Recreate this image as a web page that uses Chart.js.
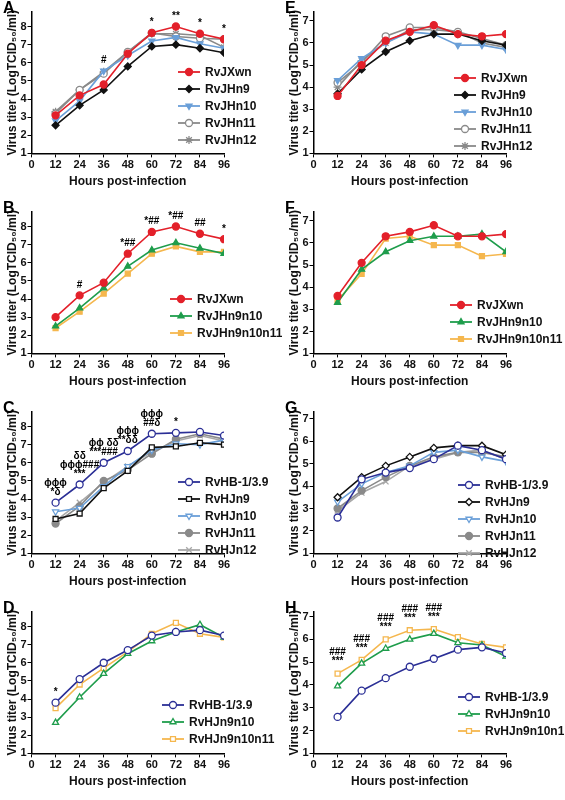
<!DOCTYPE html><html><head><meta charset="utf-8">
<script src="https://cdn.jsdelivr.net/npm/chart.js@4"></script>
<style>body{margin:0;background:#fff;width:565px;height:800px;position:relative;overflow:hidden}canvas{position:absolute}</style></head><body>
<script>
const hours=[12,24,36,48,60,72,84,96];
const xTicks=[0,12,24,36,48,60,72,84,96];
const aJXwn=[3.1,4.2,4.8,6.5,7.65,8.0,7.6,7.3], aJHn9=[2.55,3.65,4.5,5.8,6.9,7.0,6.8,6.55], aJHn10=[2.8,3.9,5.55,6.4,7.2,7.4,7.05,6.8], aJHn11=[3.2,4.5,5.4,6.6,7.65,7.45,7.35,7.3], aJHn12=[3.3,4.5,5.5,6.6,7.6,7.6,7.5,6.85];
const bJXwn=[3.0,4.2,4.9,6.5,7.7,8.0,7.6,7.3], bJHn9n10=[2.5,3.5,4.6,5.8,6.7,7.1,6.8,6.5], bJHn9n10n11=[2.4,3.3,4.3,5.4,6.5,6.9,6.6,6.6];
const cHB=[3.8,4.8,6.0,6.65,7.6,7.65,7.7,7.5], cHJn9=[2.9,3.2,4.6,5.55,6.85,6.9,7.1,7.0], cHJn10=[3.3,3.5,4.7,5.8,6.7,7.05,7.0,7.25], cHJn11=[2.65,3.6,5.0,5.6,6.5,7.3,7.6,7.3], cHJn12=[2.8,3.8,4.9,5.8,6.6,7.2,7.5,7.2];
const dHB=[3.8,5.1,6.0,6.7,7.5,7.7,7.8,7.5], dHJn9n10=[2.7,4.1,5.4,6.5,7.2,7.7,8.1,7.4], dHJn9n10n11=[3.5,4.8,5.7,6.6,7.6,8.2,7.6,7.4];
const eJXwn=[3.6,5.0,6.1,6.5,6.8,6.4,6.3,6.4], eJHn9=[3.7,4.8,5.6,6.1,6.4,6.4,6.1,5.9], eJHn10=[4.3,5.3,6.0,6.5,6.4,5.9,5.9,5.7], eJHn11=[4.2,5.1,6.3,6.7,6.7,6.5,6.2,5.9], eJHn12=[4.0,5.2,6.0,6.6,6.6,6.5,6.0,5.8];
const fJXwn=[3.6,5.1,6.3,6.5,6.8,6.3,6.3,6.4], fJHn9n10=[3.3,4.8,5.6,6.1,6.3,6.3,6.4,5.6], fJHn9n10n11=[3.4,4.6,6.2,6.3,5.9,5.9,5.4,5.5];
const gHB=[2.6,4.3,4.6,4.8,5.2,5.8,5.6,5.2], gHJn9=[3.5,4.4,4.9,5.3,5.7,5.8,5.8,5.4], gHJn10=[3.3,4.1,4.6,4.9,5.5,5.6,5.3,5.1], gHJn11=[3.0,3.8,4.4,4.9,5.3,5.5,5.5,5.3], gHJn12=[2.9,3.7,4.2,4.9,5.2,5.5,5.6,5.2];
const hHB=[2.6,3.75,4.3,4.8,5.15,5.55,5.65,5.4], hHJn9n10=[3.95,4.95,5.6,6.0,6.25,5.85,5.75,5.25], hHJn9n10n11=[4.5,5.1,6.0,6.4,6.45,6.1,5.8,5.65];
const annA=[[36,'#'],[60,'*'],[72,'**'],[84,'*'],[96,'*']];
const annB=[[24,'#'],[48,'*##'],[60,'*##'],[72,'*##'],[84,'##'],[96,'*']];
const annC=[[12,'*δ|ϕϕϕ'],[24,'***|ϕϕϕ###|δδ'],[36,'***###|ϕϕ δδ'],[48,'**δδ|ϕϕϕ'],[60,'##δ|ϕϕϕ'],[72,'*']];
const annD=[[12,'*']];
const annH=[[12,'***|###'],[24,'***|###'],[36,'***|###'],[48,'***|###'],[60,'***|###']];

const RED='#e3202a',BLK='#111',BLU='#6a9fd8',GRY='#8a8a8a',LG='#a8a8a8',GRN='#1f9d4c',ORG='#f5b74e',NAV='#2b2f96';
function S(label,data,color,ps,fill,rot){return {label,data,borderColor:color,backgroundColor:fill?color:'#fff',pointStyle:ps,pointRotation:rot||0,pointRadius:ps==='star'||ps==='crossRot'?4:3.5,borderWidth:1.6,pointBorderWidth:1.3};}

const panels=[
 {L:'A',x:0,y:0,ymax:8.8,ytop:8,ann:annA,leg:[178,72],ds:[S('RvJXwn',aJXwn,RED,'circle',1),S('RvJHn9',aJHn9,BLK,'rectRot',1),S('RvJHn10',aJHn10,BLU,'triangle',1,180),S('RvJHn11',aJHn11,GRY,'circle',0),S('RvJHn12',aJHn12,GRY,'star',1)]},
 {L:'B',x:0,y:200,ymax:8.8,ytop:8,ann:annB,leg:[170,99],ds:[S('RvJXwn',bJXwn,RED,'circle',1),S('RvJHn9n10',bJHn9n10,GRN,'triangle',1),S('RvJHn9n10n11',bJHn9n10n11,ORG,'rect',1)]},
 {L:'C',x:0,y:400,ymax:8.8,ytop:8,ann:annC,leg:[178,82],ds:[S('RvHB-1/3.9',cHB,NAV,'circle',0),S('RvHJn9',cHJn9,BLK,'rect',0),S('RvHJn10',cHJn10,BLU,'triangle',0,180),S('RvHJn11',cHJn11,GRY,'circle',1),S('RvHJn12',cHJn12,LG,'crossRot',0)]},
 {L:'D',x:0,y:600,ymax:8.8,ytop:8,ann:annD,leg:[162,105],ds:[S('RvHB-1/3.9',dHB,NAV,'circle',0),S('RvHJn9n10',dHJn9n10,GRN,'triangle',0),S('RvHJn9n10n11',dHJn9n10n11,ORG,'rect',0)]},
 {L:'E',x:282,y:0,ymax:7.4,ytop:7,ann:[],leg:[172,78],ds:[S('RvJXwn',eJXwn,RED,'circle',1),S('RvJHn9',eJHn9,BLK,'rectRot',1),S('RvJHn10',eJHn10,BLU,'triangle',1,180),S('RvJHn11',eJHn11,GRY,'circle',0),S('RvJHn12',eJHn12,GRY,'star',1)]},
 {L:'F',x:282,y:200,ymax:7.4,ytop:7,ann:[],leg:[168,105],ds:[S('RvJXwn',fJXwn,RED,'circle',1),S('RvJHn9n10',fJHn9n10,GRN,'triangle',1),S('RvJHn9n10n11',fJHn9n10n11,ORG,'rect',1)]},
 {L:'G',x:282,y:400,ymax:7.3,ytop:7,ann:[],leg:[176,85],ds:[S('RvHB-1/3.9',gHB,NAV,'circle',0),S('RvHJn9',gHJn9,BLK,'rectRot',0),S('RvHJn10',gHJn10,BLU,'triangle',0,180),S('RvHJn11',gHJn11,GRY,'circle',1),S('RvHJn12',gHJn12,LG,'crossRot',0)]},
 {L:'H',x:282,y:600,ymax:7.2,ytop:7,ann:annH,leg:[176,97],ds:[S('RvHB-1/3.9',hHB,NAV,'circle',0),S('RvHJn9n10',hHJn9n10,GRN,'triangle',0),S('RvHJn9n10n11',hHJn9n10n11,ORG,'rect',0)]},
];
const F='"Liberation Sans", Arial, sans-serif';
const deco={id:'deco',afterDatasetsDraw(ch,a,o){const c=ch.ctx,p=o.p;c.save();
 c.fillStyle='#000';c.font='bold 16px '+F;c.textBaseline='top';c.fillText(p.L,3,1);
 c.font='bold 10px '+F;c.textAlign='center';c.textBaseline='bottom';
 p.ann.forEach(([h,t])=>{const i=hours.indexOf(h);let top=Math.max(...p.ds.map(d=>d.data[i]))+0.3;let yy=ch.scales.y.getPixelForValue(top);const xx=ch.scales.x.getPixelForValue(h);
  t.split('|').forEach(line=>{c.fillText(line,xx,yy);yy-=9;});});
 c.textAlign='left';c.textBaseline='middle';c.font='bold 12px '+F;
 p.ds.forEach((d,k)=>{const lx=p.leg[0],ly=p.leg[1]+k*17;c.strokeStyle=d.borderColor;c.lineWidth=1.8;c.beginPath();c.moveTo(lx,ly);c.lineTo(lx+22,ly);c.stroke();
  c.lineWidth=1.3;c.fillStyle=d.backgroundColor;Chart.helpers.drawPoint(c,{pointStyle:d.pointStyle,rotation:d.pointRotation,radius:d.pointRadius,borderWidth:1.3},lx+11,ly);
  c.fillStyle='#111';c.fillText(d.label,lx+27,ly+1);});
 c.restore();}};
panels.forEach(p=>{const cv=document.createElement('canvas');cv.width=282;cv.height=200;cv.style.left=p.x+'px';cv.style.top=p.y+'px';cv.style.width='282px';cv.style.height='200px';document.body.appendChild(cv);
 new Chart(cv,{type:'line',data:{datasets:p.ds.map(d=>({...d,data:d.data.map((v,i)=>({x:hours[i],y:v}))}))},plugins:[deco],
 options:{responsive:false,animation:false,devicePixelRatio:1,layout:{padding:{top:12,right:58,left:5,bottom:7}},
  plugins:{legend:{display:false},tooltip:{enabled:false},deco:{p}},
  scales:{x:{type:'linear',min:0,max:96,afterBuildTicks:s=>{s.ticks=xTicks.map(v=>({value:v}));},grid:{drawOnChartArea:false,color:'#000',tickLength:4,tickColor:'#000'},border:{color:'#000',width:1.5},ticks:{color:'#111',font:{family:F,size:11,weight:'bold'},padding:1},title:{display:true,text:'Hours post-infection',color:'#111',font:{family:F,size:12,weight:'bold'},padding:{top:2}}},
   y:{min:1,max:p.ymax,afterBuildTicks:s=>{const t=[];for(let v=1;v<=p.ytop;v++)t.push({value:v});s.ticks=t;},grid:{drawOnChartArea:false,tickLength:4,tickColor:'#000'},border:{color:'#000',width:1.5},ticks:{color:'#111',font:{family:F,size:11,weight:'bold'},padding:1},title:{display:true,text:'Virus titer (LogTCID₅₀/ml)',color:'#111',font:{family:F,size:12,weight:'bold'},padding:0}}}}});
});
</script></body></html>
